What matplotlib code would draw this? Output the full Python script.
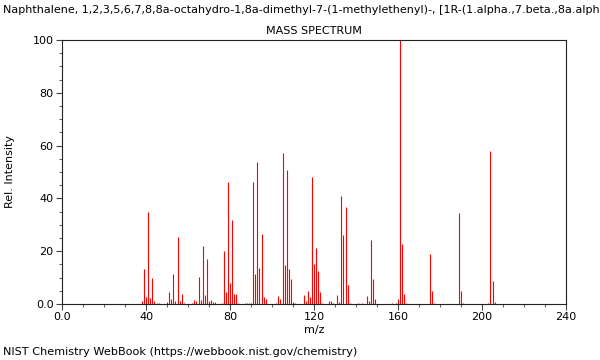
import matplotlib
matplotlib.use('Agg')
import matplotlib.pyplot as plt
from matplotlib.ticker import MultipleLocator, FixedFormatter, FixedLocator

title_text = ('Naphthalene, 1,2,3,5,6,7,8,8a-octahydro-1,8a-dimethyl-7-(1-methylethenyl)-, '
              '[1R-(1.alpha.,7.beta.,8a.alpha.)]-')

mz = [38, 39, 40, 41, 42, 43, 44, 45, 46,
      50, 51, 52, 53, 54, 55, 56, 57, 58,
      62, 63, 64, 65, 66, 67, 68, 69, 70, 71, 72, 73,
      76, 77, 78, 79, 80, 81, 82, 83, 84,
      87, 88, 89, 90, 91, 92, 93, 94, 95, 96, 97,
      102, 103, 104, 105, 106, 107, 108, 109, 110, 111,
      115, 116, 117, 118, 119, 120, 121, 122, 123, 124,
      127, 128, 129, 131, 132, 133, 134, 135, 136, 137,
      141, 143, 145, 146, 147, 148, 149,
      157, 159, 160, 161, 162, 163, 164,
      175, 176, 177,
      189, 190, 191,
      203, 204, 205, 206]
intensity = [1.0, 13.3, 2.8, 34.8, 2.3, 9.8, 1.0, 0.4, 0.3,
             0.8, 4.5, 2.0, 11.4, 1.0, 25.4, 1.0, 3.6, 0.5,
             0.4, 1.5, 1.3, 10.2, 1.5, 22.1, 3.5, 17.0, 1.3, 1.5, 0.6, 0.6,
             0.5, 20.2, 4.5, 46.3, 8.0, 31.8, 3.8, 3.8, 0.4,
             0.3, 0.3, 0.4, 0.5, 46.3, 11.2, 53.8, 13.8, 26.5, 2.8, 1.8,
             0.4, 3.2, 1.8, 57.2, 14.8, 50.9, 13.4, 9.6, 0.6, 0.5,
             3.4, 1.0, 5.0, 2.5, 48.2, 15.2, 21.3, 12.5, 4.4, 0.5,
             1.2, 1.2, 0.4, 3.4, 0.7, 41.0, 26.1, 36.7, 7.2, 0.5,
             0.3, 0.3, 3.2, 1.0, 24.2, 9.5, 2.0,
             0.3, 0.5, 1.8, 100.0, 22.6, 3.7, 0.4,
             19.0, 4.9, 0.5,
             34.6, 4.9, 0.5,
             0.3, 57.8, 8.8, 0.8]

x_ticks = [0, 40, 80, 120, 160, 200, 240]
x_labels = ['0.0', '40', '80', '120', '160', '200', '240']
y_ticks = [0, 20, 40, 60, 80, 100]
y_labels = ['0.0', '20', '40', '60', '80', '100']

plt.rcParams['font.family'] = 'DejaVu Sans'
plt.rcParams['font.size'] = 8

fig = plt.figure(figsize=(6, 3.6), dpi=100)
ax = fig.add_axes([62/600, 1 - 304/360, 504/600, 264/360])

ax.vlines(mz, 0, intensity, colors='#ff0000', linewidth=0.8)

ax.set_xlim(0, 240)
ax.set_ylim(0, 100)
ax.xaxis.set_major_locator(FixedLocator(x_ticks))
ax.xaxis.set_major_formatter(FixedFormatter(x_labels))
ax.yaxis.set_major_locator(FixedLocator(y_ticks))
ax.yaxis.set_major_formatter(FixedFormatter(y_labels))
ax.xaxis.set_minor_locator(MultipleLocator(10))
ax.yaxis.set_minor_locator(MultipleLocator(5))
ax.tick_params(which='major', length=4, width=0.8, color='#444444', labelsize=8, pad=2)
ax.tick_params(which='minor', length=2.5, width=0.8, color='#666666')
for s in ax.spines.values():
    s.set_linewidth(0.8)
    s.set_color('#222222')

ax.set_xlabel('m/z', fontsize=8, labelpad=2)
ax.set_ylabel('Rel. Intensity', fontsize=8, labelpad=13)
ax.set_title('MASS SPECTRUM', fontsize=8, pad=4)

# the long compound name runs off the right edge, same as the original
fig.text(3/600, 1 - 10/360, title_text, fontsize=8, ha='left', va='center')
fig.text(3/600, 1 - 352/360, 'NIST Chemistry WebBook (https://webbook.nist.gov/chemistry)',
         fontsize=8.15, ha='left', va='center')

fig.savefig('out.png', dpi=100)
